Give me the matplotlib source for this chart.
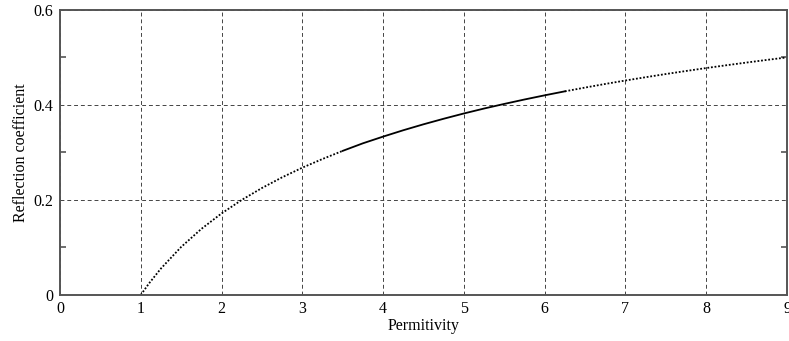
import matplotlib
matplotlib.use("Agg")
import matplotlib.pyplot as plt
import numpy as np

# Values
eps_low = [1.0, 1.1, 1.25, 1.5, 1.75, 2.0, 2.25, 2.5, 2.75, 3.0, 3.25, 3.5]
r_low = [0.0, 0.0238, 0.0557, 0.1010, 0.1390, 0.1716, 0.2000, 0.2251, 0.2476, 0.2679, 0.2862, 0.3033]
eps_mid = [3.5, 3.75, 4.0, 4.25, 4.5, 4.75, 5.0, 5.25, 5.5, 5.75, 6.0, 6.25]
r_mid = [0.3033, 0.3192, 0.3333, 0.3467, 0.3592, 0.3709, 0.3820, 0.3924, 0.4021, 0.4114, 0.4202, 0.4286]
eps_high = [6.25, 6.5, 6.75, 7.0, 7.25, 7.5, 7.75, 8.0, 8.25, 8.5, 8.75, 9.0]
r_high = [0.4286, 0.4365, 0.4441, 0.4514, 0.4583, 0.4650, 0.4714, 0.4776, 0.4835, 0.4892, 0.4947, 0.5000]

xticks = [0, 1, 2, 3, 4, 5, 6, 7, 8, 9]
yticks = [0, 0.2, 0.4, 0.6]
yticklabels = ["0", "0.2", "0.4", "0.6"]
yminor = [0.1, 0.3, 0.5]

plt.rcParams['font.family'] = ['Liberation Serif', 'DejaVu Serif']
fig = plt.figure(figsize=(7.89, 3.41), dpi=100)
ax = fig.add_axes([0.076, 0.135, 0.9215, 0.836])

ax.plot(eps_low, r_low, color='black', linestyle=(0, (1, 1)), linewidth=1.3)
ax.plot(eps_mid, r_mid, color='black', linestyle='-', linewidth=1.3)
ax.plot(eps_high, r_high, color='black', linestyle=(0, (1, 1)), linewidth=1.3)

ax.set_xlim(0, 9)
ax.set_ylim(0, 0.6)
ax.set_xticks(xticks)
ax.set_yticks(yticks)
ax.set_yticklabels(yticklabels)
ax.set_yticks(yminor, minor=True)
ax.grid(True, which='major', color='#444444', linestyle=(0, (4, 3)), linewidth=0.7)
ax.tick_params(axis='x', which='both', length=0, labelsize=11.5, pad=4)
ax.tick_params(axis='y', which='major', length=0, labelsize=11.5, pad=5)
ax.tick_params(axis='y', which='minor', direction='in', length=4, width=1.2,
               color='#555555', left=True, right=True)
for s in ax.spines.values():
    s.set_color('#555555')
    s.set_linewidth(1.4)

ax.set_xlabel('Permitivity', fontsize=11.5, labelpad=1)
ax.set_ylabel('Reflection coefficient', fontsize=11.5, labelpad=3)

fig.savefig('out.png', dpi=100)
